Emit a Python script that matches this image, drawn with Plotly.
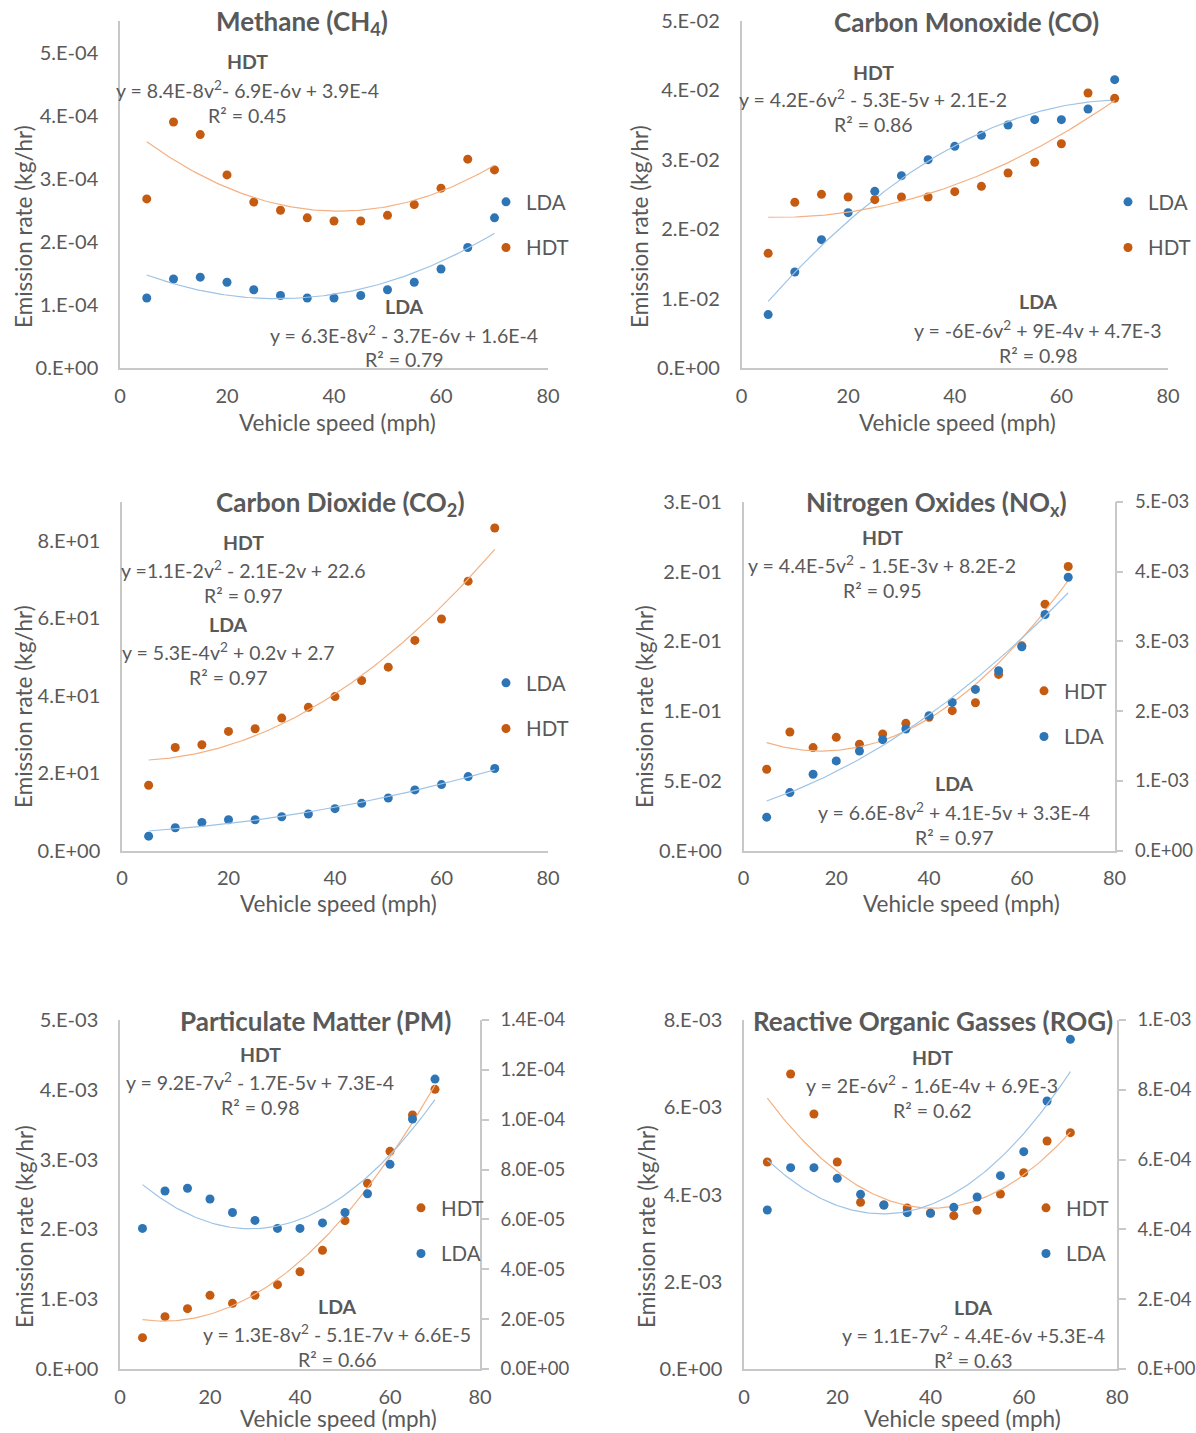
import numpy as np
import plotly.graph_objects as go

# ---------------- data ----------------
speed = [5, 10, 15, 20, 25, 30, 35, 40, 45, 50, 55, 60, 65, 70]

ch4_lda = [1.11e-4, 1.41e-4, 1.44e-4, 1.36e-4, 1.24e-4, 1.15e-4, 1.11e-4, 1.11e-4, 1.15e-4, 1.24e-4, 1.36e-4, 1.57e-4, 1.91e-4, 2.38e-4]
ch4_hdt = [2.68e-4, 3.90e-4, 3.70e-4, 3.06e-4, 2.63e-4, 2.50e-4, 2.38e-4, 2.33e-4, 2.33e-4, 2.42e-4, 2.59e-4, 2.85e-4, 3.31e-4, 3.14e-4]

co_lda = [7.7e-3, 1.383e-2, 1.849e-2, 2.238e-2, 2.546e-2, 2.771e-2, 3.002e-2, 3.194e-2, 3.353e-2, 3.501e-2, 3.578e-2, 3.578e-2, 3.732e-2, 4.155e-2]
co_hdt = [1.652e-2, 2.387e-2, 2.502e-2, 2.464e-2, 2.426e-2, 2.464e-2, 2.464e-2, 2.541e-2, 2.618e-2, 2.810e-2, 2.963e-2, 3.232e-2, 3.963e-2, 3.886e-2]

co2_lda = [3.71, 5.87, 7.26, 7.95, 7.95, 8.73, 9.42, 10.8, 12.18, 13.56, 15.64, 17.02, 19.09, 21.17]
co2_hdt = [16.85, 26.6, 27.3, 30.76, 31.45, 34.2, 36.98, 39.74, 43.89, 47.34, 54.25, 59.78, 69.55, 83.28]

nox_hdt = [0.0583, 0.0850, 0.0738, 0.0812, 0.0762, 0.0836, 0.0912, 0.0955, 0.1003, 0.1060, 0.1263, 0.1468, 0.1767, 0.2037]
nox_lda = [0.478e-3, 0.831e-3, 1.094e-3, 1.285e-3, 1.428e-3, 1.590e-3, 1.743e-3, 1.934e-3, 2.125e-3, 2.311e-3, 2.579e-3, 2.923e-3, 3.386e-3, 3.921e-3]

pm_hdt = [0.449e-3, 0.750e-3, 0.864e-3, 1.055e-3, 0.941e-3, 1.055e-3, 1.208e-3, 1.394e-3, 1.700e-3, 2.125e-3, 2.660e-3, 3.118e-3, 3.639e-3, 4.007e-3]
pm_lda = [5.64e-5, 7.14e-5, 7.25e-5, 6.82e-5, 6.28e-5, 5.96e-5, 5.64e-5, 5.64e-5, 5.86e-5, 6.28e-5, 7.03e-5, 8.21e-5, 1.003e-4, 1.163e-4]

rog_hdt = [4.745e-3, 6.762e-3, 5.845e-3, 4.745e-3, 3.820e-3, 3.759e-3, 3.690e-3, 3.576e-3, 3.515e-3, 3.637e-3, 4.011e-3, 4.500e-3, 5.226e-3, 5.417e-3]
rog_lda = [4.556e-4, 5.769e-4, 5.769e-4, 5.463e-4, 5.005e-4, 4.699e-4, 4.479e-4, 4.460e-4, 4.632e-4, 4.928e-4, 5.540e-4, 6.227e-4, 7.679e-4, 9.446e-4]

x_ticks = [0, 20, 40, 60, 80]

ch4_ticks = [0, 1e-4, 2e-4, 3e-4, 4e-4, 5e-4]
ch4_ticktext = ["0.E+00", "1.E-04", "2.E-04", "3.E-04", "4.E-04", "5.E-04"]
co_ticks = [0, 1e-2, 2e-2, 3e-2, 4e-2, 5e-2]
co_ticktext = ["0.E+00", "1.E-02", "2.E-02", "3.E-02", "4.E-02", "5.E-02"]
co2_ticks = [0, 20, 40, 60, 80]
co2_ticktext = ["0.E+00", "2.E+01", "4.E+01", "6.E+01", "8.E+01"]
nox_ticks_l = [0, 0.05, 0.10, 0.15, 0.20, 0.25]
nox_ticktext_l = ["0.E+00", "5.E-02", "1.E-01", "2.E-01", "2.E-01", "3.E-01"]
nox_ticks_r = [0, 1e-3, 2e-3, 3e-3, 4e-3, 5e-3]
nox_ticktext_r = ["0.E+00", "1.E-03", "2.E-03", "3.E-03", "4.E-03", "5.E-03"]
pm_ticks_l = [0, 1e-3, 2e-3, 3e-3, 4e-3, 5e-3]
pm_ticktext_l = ["0.E+00", "1.E-03", "2.E-03", "3.E-03", "4.E-03", "5.E-03"]
pm_ticks_r = [0, 2e-5, 4e-5, 6e-5, 8e-5, 1.0e-4, 1.2e-4, 1.4e-4]
pm_ticktext_r = ["0.0E+00", "2.0E-05", "4.0E-05", "6.0E-05", "8.0E-05", "1.0E-04", "1.2E-04", "1.4E-04"]
rog_ticks_l = [0, 2e-3, 4e-3, 6e-3, 8e-3]
rog_ticktext_l = ["0.E+00", "2.E-03", "4.E-03", "6.E-03", "8.E-03"]
rog_ticks_r = [0, 2e-4, 4e-4, 6e-4, 8e-4, 1e-3]
rog_ticktext_r = ["0.E+00", "2.E-04", "4.E-04", "6.E-04", "8.E-04", "1.E-03"]

# ---------------- style ----------------
W, H = 1196, 1433
FONT = "Lato, 'Open Sans', sans-serif"
TXT = "#595959"
AXC = "#C8C8C8"
BLUE, ORANGE = "#2E75B6", "#C55A11"
BLUE_T, ORANGE_T = "#9DC3E6", "#F4B183"


def px(x):
    return x / W


def py(y):
    return 1 - y / H


fig = go.Figure()

# panel geometry in pixels: (x0, x1, ytop, ybottom)
geo = {
    1: (120, 548, 21, 368),
    2: (741.5, 1168, 21, 368),
    3: (122, 548, 502, 850.5),
    4: (743.5, 1114.6, 502, 850.5),
    5: (120, 480, 1020, 1369),
    6: (744, 1117, 1020, 1369),
}


def trend(vals):
    c = np.polyfit(speed, vals, 2)
    vv = np.linspace(speed[0], speed[-1], 131)
    return vv, np.polyval(c, vv)


def add_series(name, vals, color, tcolor, xa, ya, leg):
    fig.add_trace(go.Scatter(x=speed, y=vals, mode="markers", name=name,
                             marker=dict(color=color, size=9),
                             xaxis=xa, yaxis=ya, legend=leg, legendgroup=leg + name,
                             hoverinfo="x+y"))
    vv, yy = trend(vals)
    fig.add_trace(go.Scatter(x=vv, y=yy, mode="lines", showlegend=False,
                             line=dict(color=tcolor, width=1.2),
                             xaxis=xa, yaxis=ya, hoverinfo="skip"))


# Panel 1-3: LDA then HDT ; Panel 4-6: HDT then LDA
add_series("LDA", ch4_lda, BLUE, BLUE_T, "x", "y", "legend")
add_series("HDT", ch4_hdt, ORANGE, ORANGE_T, "x", "y", "legend")
add_series("LDA", co_lda, BLUE, BLUE_T, "x2", "y2", "legend2")
add_series("HDT", co_hdt, ORANGE, ORANGE_T, "x2", "y2", "legend2")
add_series("LDA", co2_lda, BLUE, BLUE_T, "x3", "y3", "legend3")
add_series("HDT", co2_hdt, ORANGE, ORANGE_T, "x3", "y3", "legend3")
add_series("HDT", nox_hdt, ORANGE, ORANGE_T, "x4", "y4", "legend4")
add_series("LDA", nox_lda, BLUE, BLUE_T, "x4", "y7", "legend4")
add_series("HDT", pm_hdt, ORANGE, ORANGE_T, "x5", "y5", "legend5")
add_series("LDA", pm_lda, BLUE, BLUE_T, "x5", "y8", "legend5")
add_series("HDT", rog_hdt, ORANGE, ORANGE_T, "x6", "y6", "legend6")
add_series("LDA", rog_lda, BLUE, BLUE_T, "x6", "y9", "legend6")

tickfont = dict(family=FONT, size=20, color=TXT)
rtickfont = dict(family=FONT, size=18.5, color=TXT)
layout = dict(width=W, height=H, autosize=False,
              margin=dict(l=0, r=0, t=0, b=0, autoexpand=False),
              paper_bgcolor="white", plot_bgcolor="white",
              font=dict(family=FONT, color=TXT), hovermode="closest")

yspec = {
    1: ([0, 5.5e-4], ch4_ticks, ch4_ticktext),
    2: ([0, 5e-2], co_ticks, co_ticktext),
    3: ([0, 90], co2_ticks, co2_ticktext),
    4: ([0, 0.25], nox_ticks_l, nox_ticktext_l),
    5: ([0, 5e-3], pm_ticks_l, pm_ticktext_l),
    6: ([0, 8e-3], rog_ticks_l, rog_ticktext_l),
}
for i in range(1, 7):
    x0, x1, yt, yb = geo[i]
    suf = "" if i == 1 else str(i)
    layout["xaxis" + suf] = dict(domain=[px(x0), px(x1)], range=[0, 80], anchor="y" + suf,
                                 tickvals=x_ticks, ticktext=[str(t) for t in x_ticks],
                                 showgrid=False, zeroline=False, showline=True,
                                 linecolor=AXC, linewidth=1.5, ticks="", automargin=False,
                                 tickfont=tickfont, ticklabelstandoff=9, fixedrange=True)
    rng, tv, tt = yspec[i]
    layout["yaxis" + suf] = dict(domain=[py(yb), py(yt)], range=rng, anchor="x" + suf,
                                 tickvals=tv, ticktext=tt, showgrid=False, zeroline=False,
                                 showline=True, linecolor=AXC, linewidth=1.5, ticks="",
                                 automargin=False,
                                 tickfont=tickfont, ticklabelstandoff=16, fixedrange=True)

rspec = {
    7: (4, [0, 5e-3], nox_ticks_r, nox_ticktext_r),
    8: (5, [0, 1.4e-4], pm_ticks_r, pm_ticktext_r),
    9: (6, [0, 1e-3], rog_ticks_r, rog_ticktext_r),
}
for k, (base, rng, tv, tt) in rspec.items():
    layout["yaxis" + str(k)] = dict(overlaying="y" + str(base), side="right",
                                    anchor="x" + str(base), range=rng,
                                    tickvals=tv, ticktext=tt, showgrid=False, zeroline=False,
                                    showline=True, linecolor=AXC, linewidth=1.5,
                                    ticks="outside", ticklen=7, tickcolor=AXC, tickwidth=1.5,
                                    automargin=False,
                                    tickfont=rtickfont, ticklabelstandoff=8, fixedrange=True)

# legends (pixel position of first marker)
legpos = {"legend": (506, 198), "legend2": (1128, 198), "legend3": (506, 679),
          "legend4": (1044, 687), "legend5": (421, 1204), "legend6": (1046, 1204)}
for name, (mx, my) in legpos.items():
    layout[name] = dict(x=px(mx - 20), y=py(my - 16), xanchor="left", yanchor="top",
                        bgcolor="rgba(0,0,0,0)", borderwidth=0,
                        font=dict(family=FONT, size=20.5, color=TXT),
                        traceorder="grouped", tracegroupgap=16, itemwidth=30)

fig.update_layout(**layout)

anns = []


def text_at(x, y, text, size=17, bold=False, angle=0):
    anns.append(dict(x=px(x), y=py(y), xref="paper", yref="paper", showarrow=False,
                     text="<b>%s</b>" % text if bold else text, textangle=angle,
                     xanchor="center", yanchor="middle",
                     font=dict(family=FONT, size=size, color=TXT)))


# titles
TS = 26
text_at(302, 22, "Methane (CH<sub>4</sub>)", TS, True)
text_at(966, 22, "Carbon Monoxide (CO)", TS, True)
text_at(340, 503, "Carbon Dioxide (CO<sub>2</sub>)", TS, True)
text_at(936, 503, "Nitrogen Oxides (NO<sub>x</sub>)", TS, True)
text_at(315, 1021, "Particulate Matter (PM)", TS, True)
text_at(933, 1021, "Reactive Organic Gasses (ROG)", TS, True)

# axis titles
AS = 22.5
for (xx, yy) in [(24, 227), (640, 227), (24, 707), (645, 707), (24, 1227), (646, 1227)]:
    text_at(xx, yy, "Emission rate (kg/hr)", AS, False, -90)
for (xx, yy) in [(337, 422), (957, 422), (338, 903), (961, 903), (338, 1418), (962, 1418)]:
    text_at(xx, yy, "Vehicle speed (mph)", AS)

# equation blocks: (x, y of label), label, equation, r2
eqs = [
    (247, 62, "HDT", "y = 8.4E-8v<sup>2</sup>- 6.9E-6v + 3.9E-4", "R² = 0.45"),
    (404, 307, "LDA", "y = 6.3E-8v<sup>2</sup> - 3.7E-6v + 1.6E-4", "R² = 0.79"),
    (873, 72, "HDT", "y = 4.2E-6v<sup>2</sup> - 5.3E-5v + 2.1E-2", "R² = 0.86"),
    (1038, 302, "LDA", "y = -6E-6v<sup>2</sup> + 9E-4v + 4.7E-3", "R² = 0.98"),
    (243, 542, "HDT", "y =1.1E-2v<sup>2</sup> - 2.1E-2v + 22.6", "R² = 0.97"),
    (228, 624, "LDA", "y = 5.3E-4v<sup>2</sup> + 0.2v + 2.7", "R² = 0.97"),
    (882, 537, "HDT", "y = 4.4E-5v<sup>2</sup> - 1.5E-3v + 8.2E-2", "R² = 0.95"),
    (954, 784, "LDA", "y = 6.6E-8v<sup>2</sup> + 4.1E-5v + 3.3E-4", "R² = 0.97"),
    (260, 1054, "HDT", "y = 9.2E-7v<sup>2</sup> - 1.7E-5v + 7.3E-4", "R² = 0.98"),
    (337, 1306, "LDA", "y = 1.3E-8v<sup>2</sup> - 5.1E-7v + 6.6E-5", "R² = 0.66"),
    (932, 1057, "HDT", "y = 2E-6v<sup>2</sup> - 1.6E-4v + 6.9E-3", "R² = 0.62"),
    (973, 1307, "LDA", "y = 1.1E-7v<sup>2</sup> - 4.4E-6v +5.3E-4", "R² = 0.63"),
]
ES = 19.5
for (xx, yy, lab, eq, r2) in eqs:
    text_at(xx, yy, lab, ES, True)
    text_at(xx, yy + 27, eq, ES)
    text_at(xx, yy + 53, r2, ES)

fig.update_layout(annotations=anns)
fig.write_html("out.html")
